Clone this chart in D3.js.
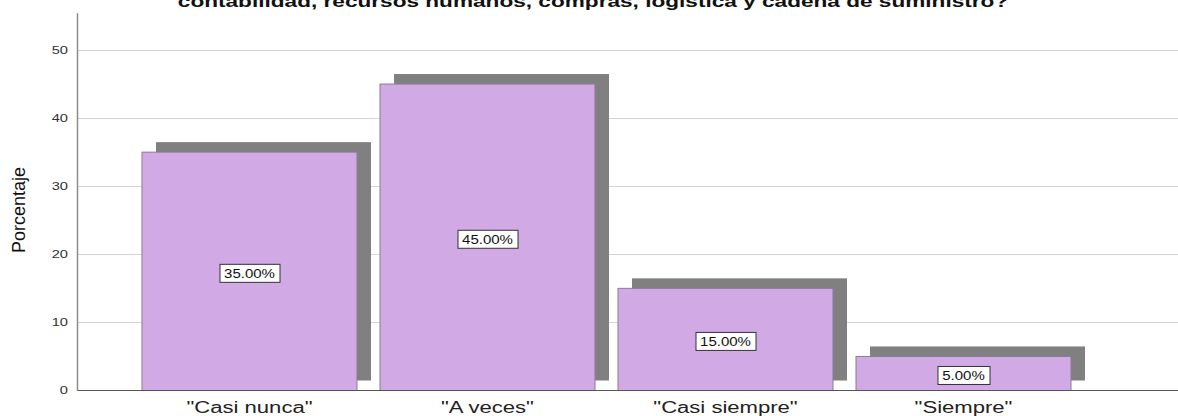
<!DOCTYPE html>
<html>
<head>
<meta charset="utf-8">
<script src="https://cdn.jsdelivr.net/npm/d3@7"></script>
<style>
  body { margin: 0; background: #fff; }
  svg { display: block; font-family: Arial, "Liberation Sans", sans-serif; }
</style>
</head>
<body>
<div id="chart"></div>
<script>
// data
var categories = ['"Casi nunca"', '"A veces"', '"Casi siempre"', '"Siempre"'];
var percents = [35, 45, 15, 5];
var yTicks = [0, 10, 20, 30, 40, 50];
var titleText = "contabilidad, recursos humanos, compras, logística y cadena de suministro?";

var width = 1178, height = 416;
// the original text is drawn wide, so stretch glyphs horizontally
var stretch = 1.33;

var svg = d3.select("#chart").append("svg")
    .attr("width", width)
    .attr("height", height);

// scales
var x = d3.scaleBand()
    .domain(categories)
    .range([130.5, 1082.5])
    .paddingInner(0.0966)
    .paddingOuter(0.0483);

var y = d3.scaleLinear()
    .domain([0, 55.4])
    .range([390.5, 13.2]);

var axisLeft = 77.5, axisRight = 1178;

// grid lines
svg.append("g")
    .attr("class", "grid")
    .selectAll("line")
    .data(yTicks.filter(function (d) { return d > 0; }))
    .enter().append("line")
    .attr("x1", axisLeft)
    .attr("x2", axisRight)
    .attr("y1", function (d) { return Math.round(y(d)) + 0.5; })
    .attr("y2", function (d) { return Math.round(y(d)) + 0.5; })
    .attr("stroke", "#d4d4d4")
    .attr("stroke-width", 1.2);

// y tick labels
svg.append("g")
    .attr("class", "y-ticks")
    .selectAll("text")
    .data(yTicks)
    .enter().append("text")
    .attr("transform", function (d) {
        return "translate(68," + y(d) + ") scale(" + stretch + ",1)";
    })
    .attr("text-anchor", "end")
    .attr("dy", "0.36em")
    .attr("font-size", "11px")
    .attr("fill", "#333")
    .text(function (d) { return d; });

svg.append("line")
    .attr("x1", axisLeft).attr("x2", axisLeft)
    .attr("y1", y.range()[1]).attr("y2", y(0))
    .attr("stroke", "#8c8c8c")
    .attr("stroke-width", 1.5);

// shadows
var shadowDx = 14, shadowDy = -10;
svg.append("g")
    .attr("class", "shadows")
    .selectAll("rect")
    .data(percents)
    .enter().append("rect")
    .attr("x", function (d, i) { return x(categories[i]) + shadowDx; })
    .attr("y", function (d) { return y(d) + shadowDy; })
    .attr("width", x.bandwidth())
    .attr("height", function (d) { return y(0) - y(d); })
    .attr("fill", "#808080");

// bars
svg.append("g")
    .attr("class", "bars")
    .selectAll("rect")
    .data(percents)
    .enter().append("rect")
    .attr("x", function (d, i) { return x(categories[i]); })
    .attr("y", function (d) { return y(d); })
    .attr("width", x.bandwidth())
    .attr("height", function (d) { return y(0) - y(d); })
    .attr("fill", "#d1a9e4")
    .attr("stroke", "#8d7a98")
    .attr("stroke-width", 1);

// x axis line
svg.append("line")
    .attr("x1", axisLeft).attr("x2", axisRight)
    .attr("y1", y(0)).attr("y2", y(0))
    .attr("stroke", "#555")
    .attr("stroke-width", 1.2);

// value labels with boxes
var labels = svg.append("g")
    .attr("class", "value-labels")
    .selectAll("g")
    .data(percents)
    .enter().append("g")
    .attr("transform", function (d, i) {
        var cx = x(categories[i]) + x.bandwidth() / 2;
        var cy = (y(d) + y(0)) / 2 + 2.5;
        return "translate(" + cx + "," + cy + ")";
    });

labels.append("text")
    .attr("text-anchor", "middle")
    .attr("dy", "0.36em")
    .attr("transform", "scale(1.25,1)")
    .attr("font-size", "12px")
    .attr("fill", "#111")
    .text(function (d) { return d.toFixed(2) + "%"; });

labels.each(function () {
    var g = d3.select(this);
    var bb = g.select("text").node().getBBox();
    var w = Math.round(bb.width * 1.25 + 9);
    g.insert("rect", "text")
        .attr("x", -Math.round(w / 2) + 0.5)
        .attr("y", -9.5)
        .attr("width", w)
        .attr("height", 18)
        .attr("fill", "#fff")
        .attr("stroke", "#333")
        .attr("stroke-width", 1);
});

// x category labels
svg.append("g")
    .selectAll("text")
    .data(categories)
    .enter().append("text")
    .attr("transform", function (d) {
        return "translate(" + (x(d) + x.bandwidth() / 2) + ",413) scale(" + (stretch + 0.05) + ",1)";
    })
    .attr("text-anchor", "middle")
    .attr("font-size", "16px")
    .attr("fill", "#222")
    .text(function (d) { return d; });

// y axis title
svg.append("text")
    .attr("transform", "translate(25,210) rotate(-90)")
    .attr("text-anchor", "middle")
    .attr("font-size", "18px")
    .attr("fill", "#111")
    .text("Porcentaje");

// chart title (top line cut off in the original)
svg.append("text")
    .attr("transform", "translate(593,7) scale(" + stretch + ",1)")
    .attr("text-anchor", "middle")
    .attr("font-size", "17px")
    .attr("font-weight", "bold")
    .attr("fill", "#111")
    .text(titleText);
</script>
</body>
</html>
